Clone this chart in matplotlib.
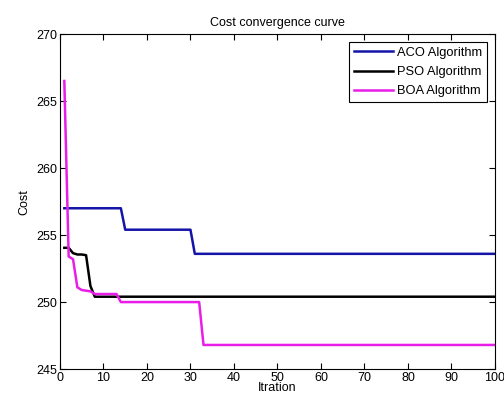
import matplotlib
matplotlib.use("Agg")
import matplotlib.pyplot as plt
import numpy as np

plt.rcParams['font.family'] = ['Liberation Sans', 'DejaVu Sans']

iters = np.arange(1, 101)

# best cost per iteration
aco = [257.0] * 14 + [255.4] * 16 + [253.6] * 70
pso = [254.05, 254.05, 253.65, 253.55, 253.55, 253.5, 251.2] + [250.4] * 93
boa = ([266.5, 253.4, 253.2, 251.1, 250.9, 250.85, 250.8]
       + [250.6] * 6 + [250.0] * 19 + [246.8] * 68)

names = ["ACO Algorithm", "PSO Algorithm", "BOA Algorithm"]
colors = ["#1414a8", "#000000", "#e81ee8"]


def createPlot():
    fig = plt.figure(figsize=(5.04, 3.96), dpi=100)
    ax = fig.add_axes([0.119, 0.068, 0.863, 0.846])

    for vals, name, c in zip([aco, pso, boa], names, colors):
        ax.plot(iters, vals, color=c, lw=1.8, label=name)

    ax.set_xlim(0, 100)
    ax.set_ylim(245, 270)
    ax.set_xticks(np.arange(0, 101, 10))
    ax.set_yticks(np.arange(245, 271, 5))
    ax.tick_params(direction='in', top=True, right=True, length=4,
                   labelsize=9, pad=2)
    for s in ax.spines.values():
        s.set_linewidth(0.8)

    ax.set_xlabel("Itration", fontsize=9, labelpad=-1)
    ax.set_ylabel("Cost", fontsize=9, labelpad=4)
    ax.set_title("Cost convergence curve", fontsize=9, pad=6)

    leg = ax.legend(loc='upper right', fontsize=9.3, fancybox=False,
                    framealpha=1, edgecolor='black', borderaxespad=0.6,
                    handlelength=3.0, labelspacing=0.55, borderpad=0.4,
                    handletextpad=0.3)
    leg.get_frame().set_linewidth(0.8)

    fig.savefig("out.png", dpi=100)


if __name__ == "__main__":
    createPlot()
